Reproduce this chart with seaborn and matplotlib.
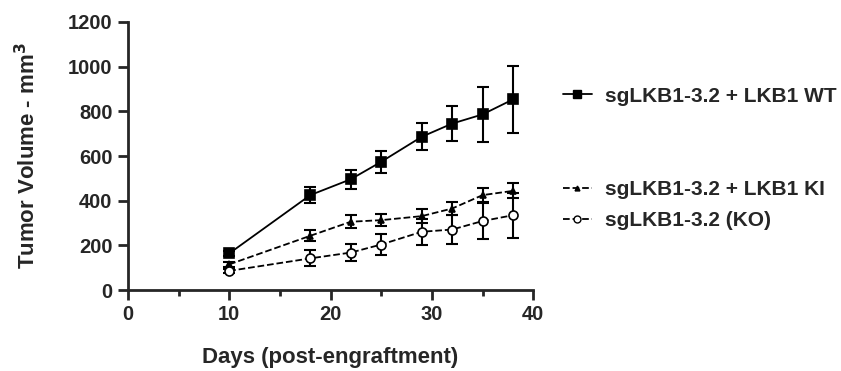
import matplotlib
matplotlib.use("Agg")
import matplotlib.pyplot as plt
from matplotlib.lines import Line2D
from matplotlib.ticker import MultipleLocator
import seaborn as sns
import numpy as np
import pandas as pd

days = [10, 18, 22, 25, 29, 32, 35, 38]

wt_mean = [164, 425, 496, 574, 686, 745, 786, 853]
wt_err = [12, 37, 43, 49, 61, 80, 123, 150]

ki_mean = [115, 243, 306, 313, 331, 365, 425, 444]
ki_err = [10, 25, 30, 27, 30, 30, 30, 33]

ko_mean = [86, 142, 168, 204, 261, 271, 309, 335]
ko_err = [10, 36, 39, 48, 58, 66, 82, 100]

labels = ["sgLKB1-3.2 + LKB1 WT", "sgLKB1-3.2 + LKB1 KI", "sgLKB1-3.2 (KO)"]

sns.set_style("ticks")
plt.rcParams["font.family"] = ["Liberation Sans", "DejaVu Sans"]
plt.rcParams["font.weight"] = "bold"

fig = plt.figure(figsize=(8.41, 3.71), dpi=100)
ax = fig.add_axes([0.152, 0.218, 0.482, 0.723])

groups = [
    (wt_mean, wt_err, "s", "-", "black", 7),
    (ki_mean, ki_err, "^", "--", "black", 5),
    (ko_mean, ko_err, "o", "--", "white", 6.5),
]
handles = []
for (m, e, mk, ls, fc, ms), lab in zip(groups, labels):
    df = pd.DataFrame({"day": days, "vol": m})
    sns.lineplot(data=df, x="day", y="vol", ax=ax, color="black", linewidth=1.3,
                 linestyle=ls, marker=mk, markersize=ms, markerfacecolor=fc,
                 markeredgecolor="black", markeredgewidth=1.2, zorder=3)
    ax.errorbar(days, m, yerr=e, fmt="none", ecolor="black", elinewidth=1.5,
                capsize=4, capthick=1.5, zorder=2)
    handles.append(Line2D([], [], color="black", linestyle=ls, linewidth=1.3,
                          marker=mk, markersize=ms - 1.5, markerfacecolor=fc,
                          markeredgecolor="black"))

ax.set_xlim(0, 40)
ax.set_ylim(0, 1200)
ax.xaxis.set_major_locator(MultipleLocator(10))
ax.xaxis.set_minor_locator(MultipleLocator(5))
ax.yaxis.set_major_locator(MultipleLocator(200))
sns.despine(ax=ax)
for s in ["left", "bottom"]:
    ax.spines[s].set_linewidth(2)
ax.tick_params(which="major", width=2, length=7, labelsize=14.5, direction="out", pad=4)
ax.tick_params(which="minor", width=2, length=4, direction="out")
for t in ax.get_xticklabels() + ax.get_yticklabels():
    t.set_fontweight("bold")
ax.set_xlabel("Days (post-engraftment)", fontsize=16, fontweight="bold", labelpad=16)
ax.set_ylabel("Tumor Volume - mm$^\\mathbf{3}$", fontsize=16, fontweight="bold", labelpad=20)

blank = Line2D([], [], linestyle="none")
leg = fig.legend([handles[0], blank, blank, handles[1], handles[2]],
                 [labels[0], "", "", labels[1], labels[2]],
                 loc="upper left", bbox_to_anchor=(0.647, 0.817), frameon=False,
                 handlelength=1.4, handletextpad=0.6, labelspacing=0.58,
                 prop={"weight": "bold", "size": 15})

fig.savefig("out.png", dpi=100)
